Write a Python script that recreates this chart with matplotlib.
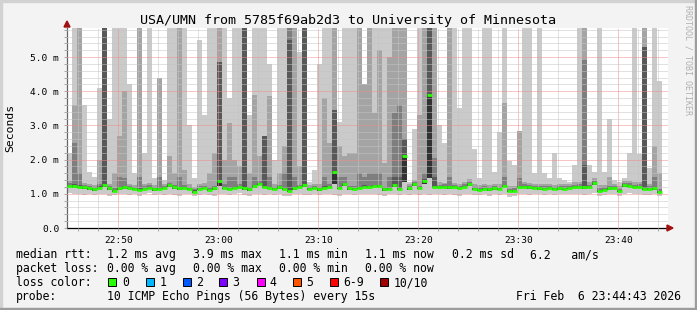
import numpy as np
import matplotlib
matplotlib.use('Agg')
import matplotlib.pyplot as plt
import matplotlib.dates as mdates
from matplotlib.patches import Rectangle, Polygon
from matplotlib.ticker import MultipleLocator, FuncFormatter

plt.rcParams['font.family'] = 'DejaVu Sans Mono'

W, H = 697, 310

# median rtt per 30 s step (ms)
med = [
    1.24, 1.22, 1.21, 1.19, 1.16, 1.13, 1.18, 1.25, 1.16, 1.08,
    1.16, 1.19, 1.17, 1.14, 1.12, 1.15, 1.18, 1.13, 1.15, 1.17,
    1.25, 1.19, 1.16, 1.18, 1.14, 1.06, 1.15, 1.17, 1.12, 1.16,
    1.37, 1.18, 1.14, 1.17, 1.20, 1.16, 1.13, 1.22, 1.30, 1.20,
    1.17, 1.14, 1.19, 1.15, 1.08, 1.16, 1.20, 1.25, 1.14, 1.17,
    1.13, 1.18, 1.20, 1.65, 1.17, 1.30, 1.16, 1.15, 1.17, 1.21,
    1.20, 1.24, 1.23, 1.13, 1.15, 1.25, 1.14, 2.10, 1.16, 1.28,
    1.17, 1.38, 3.90, 1.21, 1.20, 1.21, 1.19, 1.20, 1.17, 1.21,
    1.29, 1.14, 1.12, 1.15, 1.13, 1.16, 1.14, 1.23, 1.08, 1.09,
    1.20, 1.21, 1.19, 1.17, 1.16, 1.15, 1.17, 1.14, 1.16, 1.15,
    1.17, 1.20, 1.21, 1.19, 1.20, 1.31, 1.09, 1.12, 1.16, 1.17,
    1.08, 1.25, 1.24, 1.20, 1.21, 1.14, 1.15, 1.16, 1.06,
]
# lowest ping of each step
lo = [
    1.02, 0.98, 1.00, 0.97, 0.99, 0.96, 1.00, 0.98, 0.95, 0.97,
    0.99, 1.00, 0.96, 0.98, 0.95, 0.99, 1.01, 0.97, 0.98, 0.96,
    1.00, 0.97, 0.95, 0.99, 0.98, 0.93, 0.96, 1.00, 0.97, 0.95,
    0.98, 1.00, 0.96, 0.99, 1.01, 0.97, 0.95, 0.98, 1.00, 0.96,
    0.99, 0.97, 1.00, 0.94, 0.95, 0.98, 1.00, 0.96, 0.97, 0.99,
    0.96, 0.98, 1.00, 0.97, 0.95, 0.99, 0.98, 0.97, 1.00, 0.98,
    1.00, 0.99, 0.97, 0.95, 0.98, 1.00, 0.96, 0.98, 0.97, 0.99,
    0.96, 0.98, 0.97, 0.99, 1.00, 0.96, 0.98, 0.97, 0.95, 0.99,
    1.00, 0.97, 0.96, 0.98, 0.95, 0.99, 0.97, 0.98, 0.92, 0.95,
    0.98, 1.00, 0.97, 0.99, 0.98, 0.96, 1.00, 0.97, 0.98, 0.99,
    1.00, 0.98, 0.99, 0.97, 1.00, 1.02, 0.94, 0.96, 0.98, 0.99,
    0.95, 1.00, 1.01, 0.98, 0.99, 0.96, 0.97, 0.98, 0.94,
]
# 4th ping (bottom of the darker smoke)
b4 = [
    1.20, 1.18, 1.17, 1.15, 1.12, 1.09, 1.14, 1.21, 1.12, 1.04,
    1.12, 1.15, 1.13, 1.10, 1.08, 1.11, 1.14, 1.09, 1.11, 1.13,
    1.21, 1.15, 1.12, 1.14, 1.10, 1.02, 1.11, 1.13, 1.08, 1.12,
    1.22, 1.14, 1.10, 1.13, 1.16, 1.12, 1.09, 1.18, 1.25, 1.16,
    1.13, 1.10, 1.15, 1.11, 1.04, 1.12, 1.16, 1.20, 1.10, 1.13,
    1.09, 1.14, 1.16, 1.30, 1.13, 1.24, 1.12, 1.11, 1.13, 1.17,
    1.16, 1.20, 1.19, 1.09, 1.11, 1.20, 1.10, 1.35, 1.12, 1.23,
    1.13, 1.30, 1.45, 1.17, 1.16, 1.17, 1.15, 1.16, 1.13, 1.17,
    1.24, 1.10, 1.08, 1.11, 1.09, 1.12, 1.10, 1.19, 1.04, 1.05,
    1.16, 1.17, 1.15, 1.13, 1.12, 1.11, 1.13, 1.10, 1.12, 1.11,
    1.13, 1.16, 1.17, 1.15, 1.16, 1.26, 1.05, 1.08, 1.12, 1.13,
    1.04, 1.21, 1.20, 1.16, 1.17, 1.10, 1.11, 1.12, 1.02,
]
# highest ping (10th), then 9th, 8th, 7th
t1 = [
    2.2, 6.5, 6.5, 3.6, 1.65, 1.5, 4.1, 6.5, 3.2, 6.5,
    6.5, 6.5, 4.2, 1.6, 6.5, 2.2, 6.5, 1.45, 4.4, 1.4,
    6.5, 6.5, 6.5, 6.5, 3.0, 1.45, 5.5, 3.3, 6.5, 6.5,
    6.5, 6.5, 3.8, 6.5, 6.5, 6.5, 3.3, 6.5, 6.5, 6.5,
    4.8, 2.0, 6.5, 6.5, 6.5, 6.5, 5.15, 6.5, 1.35, 1.7,
    4.8, 6.5, 6.5, 6.5, 3.1, 6.5, 6.5, 6.5, 6.5, 4.2,
    6.5, 6.5, 6.5, 6.5, 6.5, 6.5, 6.5, 6.5, 1.35, 2.9,
    6.5, 6.5, 6.5, 6.5, 3.0, 2.5, 6.5, 6.5, 3.5, 6.5,
    6.5, 2.3, 1.45, 6.5, 6.5, 1.65, 2.8, 6.5, 1.95, 1.85,
    2.84, 6.5, 6.5, 1.6, 6.5, 1.6, 1.45, 2.2, 1.45, 1.4,
    1.35, 1.85, 6.5, 6.5, 1.85, 1.65, 6.5, 1.65, 3.2, 1.4,
    1.35, 1.45, 2.2, 6.5, 2.15, 6.5, 1.75, 6.5, 4.3,
]
t2 = [
    1.38, 3.6, 6.5, 1.33, 1.3, 1.26, 2.0, 6.5, 1.3, 1.6,
    2.7, 4.0, 1.3, 1.27, 6.5, 1.28, 1.32, 1.26, 4.4, 1.3,
    2.1, 1.6, 6.5, 1.7, 1.28, 1.2, 1.3, 1.32, 1.6, 2.2,
    6.5, 2.0, 3.06, 2.0, 1.8, 6.5, 1.6, 3.9, 2.1, 2.7,
    3.85, 1.3, 1.6, 2.4, 6.5, 6.5, 1.8, 6.5, 1.27, 1.3,
    1.28, 3.8, 2.5, 6.5, 2.4, 2.1, 2.2, 2.2, 6.5, 4.2,
    6.5, 3.35, 5.2, 1.9, 5.0, 6.5, 6.5, 6.5, 1.28, 1.4,
    3.3, 6.5, 6.5, 6.5, 1.34, 1.33, 6.5, 1.33, 1.3, 1.35,
    1.42, 1.28, 1.25, 1.29, 1.27, 1.3, 1.28, 3.65, 1.22, 1.23,
    2.84, 1.35, 1.32, 1.3, 1.3, 1.28, 1.3, 1.27, 1.29, 1.28,
    1.3, 1.34, 1.35, 6.5, 1.34, 1.45, 1.25, 1.27, 1.5, 1.3,
    1.23, 1.38, 1.37, 1.34, 1.35, 6.5, 1.29, 2.4, 1.6,
]
t3 = [
    1.31, 2.5, 1.6, 1.26, 1.23, 1.2, 1.3, 6.5, 1.23, 1.16,
    1.5, 1.45, 1.24, 1.21, 1.5, 1.22, 1.25, 1.2, 1.5, 1.24,
    1.33, 1.26, 1.5, 1.25, 1.21, 1.14, 1.22, 1.24, 1.19, 1.24,
    4.85, 1.3, 1.5, 1.5, 1.28, 6.5, 1.2, 1.5, 1.38, 2.7,
    1.5, 1.21, 1.26, 1.6, 6.5, 1.5, 1.27, 6.5, 1.21, 1.24,
    1.2, 1.5, 1.3, 3.45, 1.5, 1.5, 1.24, 1.22, 1.6, 1.5,
    1.6, 1.6, 1.6, 1.2, 1.5, 3.35, 3.6, 2.6, 1.23, 1.35,
    1.24, 1.6, 6.5, 2.05, 1.27, 1.28, 1.5, 1.27, 1.24, 1.28,
    1.36, 1.21, 1.19, 1.22, 1.2, 1.23, 1.21, 1.5, 1.15, 1.16,
    1.45, 1.28, 1.26, 1.24, 1.23, 1.22, 1.24, 1.21, 1.23, 1.22,
    1.24, 1.27, 1.28, 4.9, 1.27, 1.38, 1.16, 1.19, 1.23, 1.24,
    1.15, 1.32, 1.31, 1.27, 1.28, 5.3, 1.22, 1.5, 1.13,
]
t4 = [
    1.27, 1.3, 1.25, 1.22, 1.19, 1.16, 1.22, 6.5, 1.19, 1.12,
    1.2, 1.22, 1.2, 1.17, 1.16, 1.18, 1.21, 1.16, 1.19, 1.2,
    1.28, 1.22, 1.2, 1.21, 1.17, 1.1, 1.18, 1.2, 1.15, 1.19,
    4.85, 1.21, 1.18, 1.2, 1.23, 6.5, 1.16, 1.26, 1.33, 2.7,
    1.21, 1.17, 1.22, 1.19, 5.5, 1.19, 1.23, 6.5, 1.17, 1.2,
    1.16, 1.22, 1.23, 3.45, 1.2, 1.33, 1.19, 1.18, 1.21, 1.25,
    1.24, 1.27, 1.26, 1.16, 1.18, 1.5, 1.5, 2.6, 1.19, 1.31,
    1.2, 1.42, 6.5, 1.5, 1.23, 1.24, 1.22, 1.23, 1.2, 1.24,
    1.32, 1.17, 1.15, 1.18, 1.16, 1.19, 1.17, 1.27, 1.11, 1.12,
    1.23, 1.24, 1.22, 1.2, 1.19, 1.18, 1.2, 1.17, 1.19, 1.18,
    1.2, 1.23, 1.24, 1.85, 1.23, 1.34, 1.12, 1.15, 1.19, 1.2,
    1.11, 1.28, 1.27, 1.23, 1.24, 5.3, 1.18, 1.19, 1.09,
]

loss_labels = ['0', '1', '2', '3', '4', '5', '6-9', '10/10']
loss_colors = ['#26ff00', '#00b8ff', '#0059ff', '#7e00ff', '#ff00ff',
               '#ff5500', '#ff0000', '#a10000']

start = np.datetime64('2026-02-06T22:44:52')
step = np.timedelta64(30, 's')
times = start + np.arange(len(med)) * step
x = mdates.date2num(times)
w = 30 / 86400.0

med = np.asarray(med); lo = np.asarray(lo); b4 = np.asarray(b4)
t1 = np.asarray(t1); t2 = np.asarray(t2); t3 = np.asarray(t3); t4 = np.asarray(t4)


def fx(px):
    return px / W


def fy(py):
    return 1 - py / H


fig = plt.figure(figsize=(W / 100, H / 100), dpi=100, facecolor='#f3f3f3')
ax = fig.add_axes([fx(67), fy(228), (668 - 67) / W, 200 / H])
ax.set_facecolor('white')

# smoke: outer pair lightest, inner pairs darker
for top, bot, col in [(t1, lo, '#cacaca'), (t2, b4, '#a4a4a4'),
                      (t3, b4, '#7e7e7e'), (t4, b4, '#585858'),
                      (med, b4, '#323232')]:
    ax.bar(x, top - bot, bottom=bot, width=w, align='edge', color=col,
           linewidth=0, antialiased=False, zorder=1)

# median, one short segment per step
ax.hlines(med, x, x + w, color=loss_colors[0], lw=2.0, zorder=4)

ax.set_xlim(mdates.date2num(start), mdates.date2num(start + np.timedelta64(3606, 's')))
ax.set_ylim(0, 5.85)

ax.xaxis.set_major_locator(mdates.MinuteLocator(byminute=range(0, 60, 10)))
ax.xaxis.set_minor_locator(mdates.MinuteLocator(byminute=range(0, 60, 2)))
ax.xaxis.set_major_formatter(mdates.DateFormatter('%H:%M'))
ax.yaxis.set_major_locator(MultipleLocator(1.0))
ax.yaxis.set_minor_locator(MultipleLocator(0.2))
ax.yaxis.set_major_formatter(FuncFormatter(lambda v, p: '0.0' if v == 0 else '%.1f m' % v))

ax.set_axisbelow(False)
ax.grid(which='minor', color='#c4c4c4', lw=0.72, ls=(0, (1, 1)))
ax.grid(which='major', color='#f08c8c', lw=0.72, ls=(0, (1, 1)))

ax.tick_params(which='both', direction='out', length=2, width=0.72, color='#aaaaaa',
               labelsize=6.8, pad=3.6)
for s in ['top', 'right']:
    ax.spines[s].set_visible(False)
ax.spines['left'].set_color('#666666')
ax.spines['bottom'].set_color('black')
ax.spines['left'].set_linewidth(0.9)
ax.spines['bottom'].set_linewidth(0.9)

# axis arrows
fig.add_artist(Polygon([[fx(67), fy(21)], [fx(64), fy(27)], [fx(70), fy(27)]],
                       closed=True, color='#a01010', transform=fig.transFigure))
fig.add_artist(Polygon([[fx(673), fy(228)], [fx(667), fy(225)], [fx(667), fy(231)]],
                       closed=True, color='#a01010', transform=fig.transFigure))

# frame bevel
fig.add_artist(Rectangle((0, fy(2)), 1, 2 / H, color='#d2d2d2', transform=fig.transFigure))
fig.add_artist(Rectangle((0, 0), 2 / W, 1, color='#d2d2d2', transform=fig.transFigure))
fig.add_artist(Rectangle((0, 0), 1, 2 / H, color='#9c9c9c', transform=fig.transFigure))
fig.add_artist(Rectangle((1 - 2 / W, 0), 2 / W, 1, color='#9c9c9c', transform=fig.transFigure))

fig.text(fx(348), fy(24), 'USA/UMN from 5785f69ab2d3 to University of Minnesota',
         ha='center', va='baseline', fontsize=9.6)
fig.text(fx(10), fy(128), 'Seconds', rotation=90, ha='center', va='center', fontsize=8.2)
fig.text(fx(688), fy(5), 'RRDTOOL / TOBI OETIKER', rotation=270, ha='center', va='top',
         fontsize=6, color='#b0b0b0')

fs = 8.3
rows = [258.3, 272.3, 286.3, 299.6]
fig.text(fx(16), fy(rows[0]), 'median rtt:', va='baseline', fontsize=fs)
for xp, s in [(107.3, '1.2 ms avg'), (193.3, '3.9 ms max'), (279.3, '1.1 ms min'),
              (365.3, '1.1 ms now'), (451.7, '0.2 ms sd'), (530, '6.2   am/s')]:
    fig.text(fx(xp), fy(rows[0]), s, va='baseline', fontsize=fs)
fig.text(fx(16), fy(rows[1]), 'packet loss:', va='baseline', fontsize=fs)
for xp, s in [(107.3, '0.00 % avg'), (193.3, '0.00 % max'), (279.3, '0.00 % min'),
              (365.3, '0.00 % now')]:
    fig.text(fx(xp), fy(rows[1]), s, va='baseline', fontsize=fs)
fig.text(fx(16), fy(rows[2]), 'loss color:', va='baseline', fontsize=fs)
box_x = [108, 146, 183, 219, 257, 293, 330, 380]
lab_x = [122.5, 159.5, 196.5, 232.5, 269.5, 306.5, 343.5, 394]
for bx, lx, lab, col in zip(box_x, lab_x, loss_labels, loss_colors):
    fig.add_artist(Rectangle((fx(bx), fy(286)), 8 / W, 8 / H, facecolor=col,
                             edgecolor='black', lw=0.7, transform=fig.transFigure))
    fig.text(fx(lx), fy(rows[2]), lab, va='baseline', fontsize=fs)
fig.text(fx(16), fy(rows[3]), 'probe:', va='baseline', fontsize=fs)
fig.text(fx(107.3), fy(rows[3]), '10 ICMP Echo Pings (56 Bytes) every 15s',
         va='baseline', fontsize=fs)
fig.text(fx(681), fy(rows[3]), 'Fri Feb  6 23:44:43 2026', ha='right',
         va='baseline', fontsize=fs)

fig.savefig('out.png', dpi=100, facecolor=fig.get_facecolor())
